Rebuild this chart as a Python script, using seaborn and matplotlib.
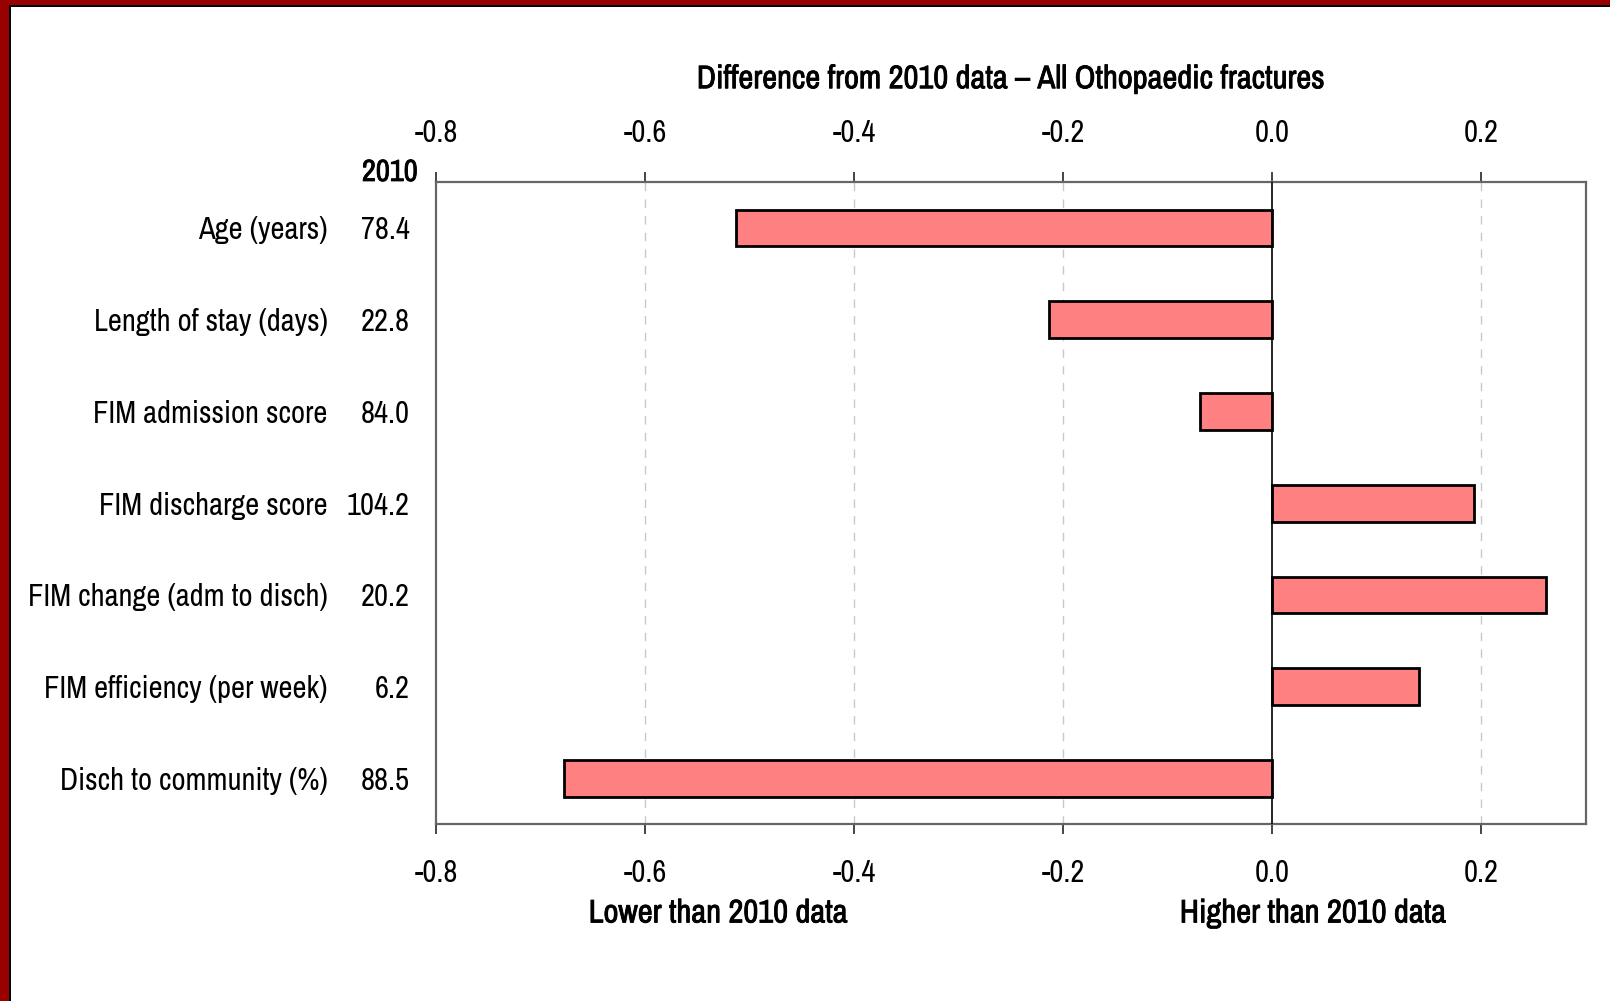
import pandas as pd
import seaborn as sns
import matplotlib.pyplot as plt
import matplotlib.patheffects as pe
from matplotlib import font_manager
from matplotlib.patches import Rectangle

# Chart values
measures = [
    "Age (years)",
    "Length of stay (days)",
    "FIM admission score",
    "FIM discharge score",
    "FIM change (adm to disch)",
    "FIM efficiency (per week)",
    "Disch to community (%)",
]
values_2010 = ["78.4", "22.8", "84.0", "104.2", "20.2", "6.2", "88.5"]
differences = [-0.513, -0.214, -0.069, 0.193, 0.262, 0.140, -0.678]
x_ticks = [-0.8, -0.6, -0.4, -0.2, 0.0, 0.2]

sns.set_theme(style="white")

# Pick a narrow font if one is available
names = {f.name for f in font_manager.fontManager.ttflist}
family = "Liberation Sans"
for candidate in ["Archivo Narrow", "Roboto Condensed", "Liberation Sans Narrow"]:
    if candidate in names:
        family = candidate
        break
plt.rcParams["font.family"] = [family, "DejaVu Sans"]

FS = 22
FS_BOLD = 23.5
bold = [pe.withStroke(linewidth=0.6, foreground="black")]

data = pd.DataFrame({"Measure": measures, "Difference": differences})

fig = plt.figure(figsize=(16.1, 10.01), dpi=100)
ax = fig.add_axes([0.2708, 0.1765, 0.7143, 0.6417])

sns.barplot(
    data=data,
    y="Measure",
    x="Difference",
    orient="h",
    color="#FF8080",
    saturation=1,
    width=0.4,
    edgecolor="black",
    linewidth=2,
    errorbar=None,
    ax=ax,
)

ax.set_xlim(-0.8, 0.3)
ax.set_ylim(len(measures) - 0.5, -0.5)
ax.set_xticks(x_ticks)
ax.set_xticklabels([f"{t:.1f}" for t in x_ticks])
ax.set_xlabel("")
ax.set_ylabel("")

# Grid and zero line
for t in x_ticks:
    if t not in (0.0, -0.8):
        ax.axvline(t, color="#c8c8c8", linestyle=(0, (6, 6)), linewidth=1, zorder=0)
ax.axvline(0, color="black", linewidth=1.2, zorder=3)

for side in ["top", "bottom", "left", "right"]:
    ax.spines[side].set_color("#666666")
    ax.spines[side].set_linewidth(1.6)

ax.tick_params(axis="x", top=True, labeltop=True, bottom=True, labelbottom=True,
               direction="out", length=7, width=1.4, color="#444444",
               labelsize=FS, labelcolor="black", pad=18)
ax.tick_params(axis="y", left=False, length=0, labelsize=FS, labelcolor="black", pad=78)

# 2010 values column
for i, v in enumerate(values_2010):
    ax.text(-0.0226, i, v, transform=ax.get_yaxis_transform(), ha="right",
            va="center_baseline", fontsize=FS, color="black")
ax.text(-0.0157, 1.0156, "2010", transform=ax.transAxes, ha="right",
        va="center", fontsize=FS, color="black", path_effects=bold)

ax.text(0.5, 1.160, "Difference from 2010 data \u2013 All Othopaedic fractures",
        transform=ax.transAxes, ha="center", va="center", fontsize=FS_BOLD,
        color="black", path_effects=bold)
ax.text(-0.530, -0.1387, "Lower than 2010 data", transform=ax.get_xaxis_transform(),
        ha="center", va="center", fontsize=FS_BOLD, color="black", path_effects=bold)
ax.text(0.039, -0.1387, "Higher than 2010 data", transform=ax.get_xaxis_transform(),
        ha="center", va="center", fontsize=FS_BOLD, color="black", path_effects=bold)

# Dark red frame on left and top edges
fig.patches.append(Rectangle((0, 0), 9 / 1610, 1, transform=fig.transFigure,
                             facecolor="#990000", edgecolor="none", zorder=10))
fig.patches.append(Rectangle((9 / 1610, 0), 1.5 / 1610, 1 - 6 / 1001,
                             transform=fig.transFigure, facecolor="black",
                             edgecolor="none", zorder=10))
fig.patches.append(Rectangle((0, 1 - 5 / 1001), 1, 5 / 1001, transform=fig.transFigure,
                             facecolor="#990000", edgecolor="none", zorder=10))
fig.patches.append(Rectangle((9 / 1610, 1 - 6.5 / 1001), 1, 1.5 / 1001,
                             transform=fig.transFigure, facecolor="black",
                             edgecolor="none", zorder=10))

fig.savefig("out.png", dpi=100)
